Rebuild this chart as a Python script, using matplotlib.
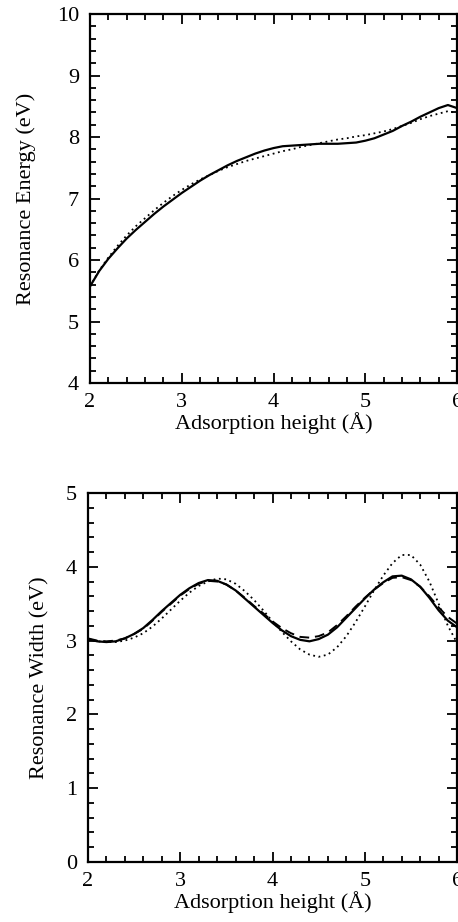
import matplotlib.pyplot as plt
from matplotlib.ticker import MultipleLocator

plt.rcParams['font.family'] = ['Liberation Serif', 'DejaVu Serif']

# adsorption heights (Å), read every 0.1
heights = [2.0, 2.1, 2.2, 2.3, 2.4, 2.5, 2.6, 2.7, 2.8, 2.9,
           3.0, 3.1, 3.2, 3.3, 3.4, 3.5, 3.6, 3.7, 3.8, 3.9,
           4.0, 4.1, 4.2, 4.3, 4.4, 4.5, 4.6, 4.7, 4.8, 4.9,
           5.0, 5.1, 5.2, 5.3, 5.4, 5.5, 5.6, 5.7, 5.8, 5.9, 6.0]

# top panel: resonance energy (eV)
energy_solid = [5.57, 5.82, 6.02, 6.19, 6.35, 6.49, 6.62, 6.75, 6.87, 6.98,
                7.09, 7.19, 7.29, 7.38, 7.46, 7.54, 7.61, 7.67, 7.73, 7.78,
                7.82, 7.85, 7.86, 7.87, 7.88, 7.89, 7.89, 7.89, 7.90, 7.91,
                7.94, 7.98, 8.04, 8.10, 8.18, 8.25, 8.33, 8.40, 8.47, 8.52, 8.47]
energy_dotted = [5.57, 5.83, 6.04, 6.23, 6.40, 6.55, 6.68, 6.81, 6.93, 7.04,
                 7.14, 7.23, 7.31, 7.38, 7.45, 7.51, 7.56, 7.61, 7.65, 7.69,
                 7.73, 7.77, 7.80, 7.84, 7.87, 7.90, 7.93, 7.96, 7.98, 8.01,
                 8.03, 8.06, 8.09, 8.13, 8.18, 8.23, 8.29, 8.34, 8.38, 8.42, 8.39]

# bottom panel: resonance width (eV)
width_solid = [3.02, 2.99, 2.98, 2.99, 3.03, 3.09, 3.17, 3.28, 3.40, 3.51,
               3.62, 3.71, 3.78, 3.82, 3.81, 3.76, 3.68, 3.57, 3.46, 3.35,
               3.24, 3.14, 3.06, 3.01, 2.99, 3.02, 3.08, 3.18, 3.31, 3.44,
               3.57, 3.69, 3.79, 3.87, 3.88, 3.83, 3.73, 3.58, 3.41, 3.27, 3.18]
width_dashed = [3.03, 3.00, 2.99, 3.00, 3.03, 3.09, 3.16, 3.27, 3.39, 3.50,
                3.61, 3.70, 3.77, 3.81, 3.80, 3.76, 3.68, 3.58, 3.47, 3.37,
                3.26, 3.17, 3.10, 3.05, 3.04, 3.06, 3.11, 3.21, 3.33, 3.46,
                3.58, 3.69, 3.78, 3.85, 3.86, 3.82, 3.73, 3.60, 3.45, 3.32, 3.23]
width_dotted = [3.01, 2.99, 2.98, 2.98, 3.00, 3.04, 3.10, 3.19, 3.30, 3.42,
                3.54, 3.65, 3.74, 3.80, 3.84, 3.83, 3.77, 3.67, 3.55, 3.41,
                3.26, 3.12, 2.99, 2.88, 2.81, 2.78, 2.81, 2.91, 3.06, 3.25,
                3.46, 3.68, 3.88, 4.05, 4.16, 4.16, 4.03, 3.80, 3.50, 3.20, 2.97]

fig = plt.figure(figsize=(4.58, 9.22), dpi=100)
ax1 = fig.add_axes([0.1965, 0.5846, 0.8015, 0.4002])
ax2 = fig.add_axes([0.192, 0.0651, 0.806, 0.4002])


def style(ax, ylim, ylabel, ypad):
    ax.set_xlim(2, 6)
    ax.set_ylim(*ylim)
    ax.xaxis.set_major_locator(MultipleLocator(1))
    ax.xaxis.set_minor_locator(MultipleLocator(0.2))
    ax.yaxis.set_major_locator(MultipleLocator(1))
    ax.yaxis.set_minor_locator(MultipleLocator(0.2))
    ax.tick_params(which='both', direction='in', top=True, right=True,
                   labelsize=16, width=1.3)
    ax.tick_params(axis='x', pad=7)
    ax.tick_params(axis='y', pad=8)
    ax.tick_params(which='major', length=7)
    ax.tick_params(which='minor', length=4)
    for s in ax.spines.values():
        s.set_linewidth(1.6)
    ax.set_xlabel('Adsorption height (Å)', fontsize=16, labelpad=0)
    ax.set_ylabel(ylabel, fontsize=16, labelpad=ypad)


ax1.plot(heights, energy_solid, color='black', lw=1.6)
ax1.plot(heights, energy_dotted, color='black', lw=1.3, ls=(0, (1, 2)))
style(ax1, (4, 10), 'Resonance Energy (eV)', 15)

ax2.plot(heights, width_solid, color='black', lw=1.6)
ax2.plot(heights, width_dashed, color='black', lw=1.4, ls=(0, (5, 3)))
ax2.plot(heights, width_dotted, color='black', lw=1.3, ls=(0, (1, 2)))
style(ax2, (0, 5), 'Resonance Width (eV)', 12)

fig.savefig('out.png', dpi=100)
